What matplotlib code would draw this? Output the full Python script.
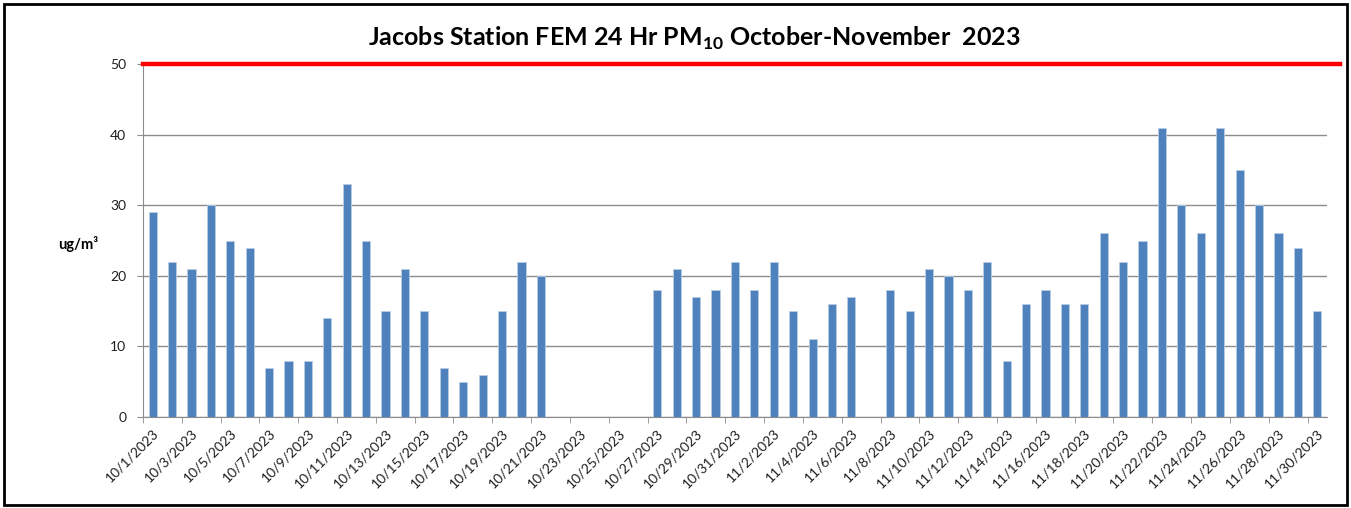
import matplotlib.pyplot as plt
import numpy as np
import pandas as pd
from matplotlib.patches import Rectangle

# daily 24 hr PM10 values, nan = no data
oct_vals = [29, 22, 21, 30, 25, 24, 7, 8, 8, 14, 33, 25, 15, 21, 15, 7, 5, 6, 15, 22, 20,
            np.nan, np.nan, np.nan, np.nan, np.nan, 18, 21, 17, 18, 22]
nov_vals = [18, 22, 15, 11, 16, 17, np.nan, 18, 15, 21, 20, 18, 22, 8, 16, 18, 16, 16, 26,
            22, 25, 41, 30, 26, 41, 35, 30, 26, 24, 15]
standard = 50

dates = pd.date_range("2023-10-01", "2023-11-30")
labels = [f"{d.month}/{d.day}/{d.year}" for d in dates]
values = np.array(oct_vals + nov_vals, dtype=float)
x = np.arange(len(values))

plt.rcParams['font.family'] = ['Lato', 'DejaVu Sans']
plt.rcParams['mathtext.fontset'] = 'custom'
plt.rcParams['mathtext.rm'] = 'Lato'
plt.rcParams['mathtext.bf'] = 'Lato:bold'

fig = plt.figure(figsize=(13.51, 5.08), dpi=100)
ax = fig.add_axes([0.1058, 0.1791, 0.8764, 0.6949])

ax.bar(x, values, width=0.42, color='#4F81BD', edgecolor='#B9CDE5', linewidth=0.6, zorder=3)

# limit line
ax.axhline(standard, xmin=0, xmax=1.011, color='#FF0000', lw=3.2, clip_on=False, zorder=5)

ax.set_xlim(-0.5, len(values) - 0.5)
ax.set_ylim(0, 50)
ax.set_yticks(range(0, 51, 10))
ax.yaxis.grid(True, color='#8C8C8C', linewidth=1.0, zorder=0)

ax.set_xticks(x[::2])
ax.set_xticklabels(labels[::2], rotation=45, ha='right', va='top', rotation_mode='anchor')
ax.set_xticks(np.arange(-0.5, len(values), 2), minor=True)
ax.tick_params(axis='x', which='major', length=0, pad=7, labelsize=10, labelcolor='#1f1f1f')
ax.tick_params(axis='x', which='minor', length=4, color='#8C8C8C', direction='out')
ax.tick_params(axis='y', length=4, color='#8C8C8C', labelsize=10, labelcolor='#1f1f1f', pad=8)

for s in ['top', 'right']:
    ax.spines[s].set_visible(False)
ax.spines['left'].set_color('#8C8C8C')
ax.spines['bottom'].set_color('#8C8C8C')

fig.text(0.058, 0.52, 'ug/m\u00b3', fontsize=10.5, fontweight='bold', ha='center', va='center')
fig.text(0.514, 0.925, r'Jacobs Station FEM 24 Hr PM$_{\mathbf{10}}$ October-November  2023',
         fontsize=18, fontweight='bold', ha='center', va='center')

fig.patches.append(Rectangle((0.003, 0.006), 0.994, 0.986, transform=fig.transFigure,
                             fill=False, edgecolor='black', linewidth=2))

fig.savefig('out.png', dpi=100)
